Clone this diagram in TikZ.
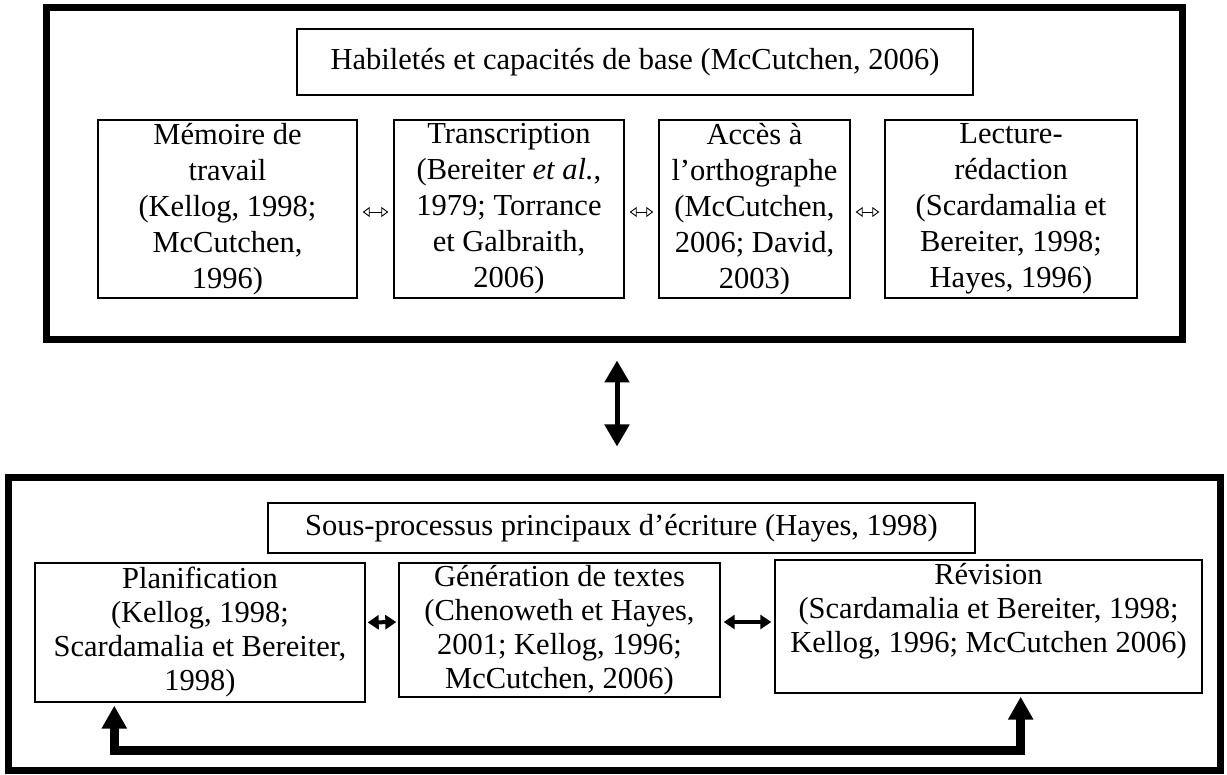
\documentclass[tikz,border=0pt]{standalone}
\usepackage{fontspec}
\setmainfont{Liberation Serif}
\usetikzlibrary{arrows.meta}

\begin{document}
\begin{tikzpicture}[x=1pt, y=-1pt,
    cadre/.style={draw, line width=7pt, inner sep=0pt},
    boite/.style={draw, line width=1.4pt, align=center, inner sep=2pt,
      font=\fontsize{30.5}{34}\selectfont},
    haute/.style={boite, font=\fontsize{30.5}{36}\selectfont},
    petite/.style={{Triangle[open,length=7pt,width=10pt]}-{Triangle[open,length=7pt,width=10pt]},
      line width=0.9pt},
    grosse/.style={{Triangle[length=22pt,width=24pt]}-{Triangle[length=22pt,width=24pt]},
      line width=5pt},
    moyenne/.style={{Triangle[length=11pt,width=14pt]}-{Triangle[length=11pt,width=14pt]},
      line width=4pt}]
        \useasboundingbox (0,0) rectangle (1227,775);

        % cadre du haut
        \node [cadre, minimum width=1136, minimum height=332] (haut) at (614,174) {};
        \node [boite, minimum width=676, minimum height=66] (base) at (635,62)
          {Habiletés et capacités de base (McCutchen, 2006)};
        \node [haute, minimum width=259, minimum height=178] (memoire) at (227.5,209)
          {Mémoire de\\ travail\\ (Kellog, 1998;\\ McCutchen,\\ 1996)};
        \node [haute, minimum width=230, minimum height=178] (transcr) at (509,209)
          {Transcription\\ (Bereiter \textit{et al.},\\ 1979; Torrance\\ et Galbraith,\\ 2006)};
        \node [haute, minimum width=191, minimum height=178] (ortho) at (754.5,209)
          {Accès à\\ l'orthographe\\ (McCutchen,\\ 2006; David,\\ 2003)};
        \node [haute, minimum width=252, minimum height=178] (lecture) at (1011,209)
          {Lecture-\\ rédaction\\ (Scardamalia et\\ Bereiter, 1998;\\ Hayes, 1996)};

        \draw [petite, shorten <=5pt, shorten >=5pt] ([yshift=-3pt]memoire.east)
          -- ([yshift=-3pt]transcr.west);
        \draw [petite, shorten <=5pt, shorten >=5pt] ([yshift=-3pt]transcr.east)
          -- ([yshift=-3pt]ortho.west);
        \draw [petite, shorten <=5pt, shorten >=5pt] ([yshift=-3pt]ortho.east)
          -- ([yshift=-3pt]lecture.west);

        % cadre du bas
        \node [cadre, minimum width=1212, minimum height=292] (bas) at (614,624) {};
        \node [boite, minimum width=707, minimum height=50] (sousproc) at (621.5,528)
          {Sous-processus principaux d'écriture (Hayes, 1998)};
        \node [boite, minimum width=330, minimum height=139] (planif) at (200,632.5)
          {Planification\\ (Kellog, 1998;\\ Scardamalia et Bereiter,\\ 1998)};
        \node [boite, minimum width=321, minimum height=134] (genere) at (559.5,630)
          {Génération de textes\\ (Chenoweth et Hayes,\\ 2001; Kellog, 1996;\\ McCutchen, 2006)};
        \node [boite, minimum width=427, minimum height=133] (revision) at (988.5,626.5)
          {Révision\\ (Scardamalia et Bereiter, 1998;\\ Kellog, 1996; McCutchen 2006)\\[4pt]};

        \draw [moyenne, shorten <=2pt, shorten >=2pt] ([yshift=10pt]planif.east)
          -- ([yshift=8pt]genere.west);
        \draw [moyenne, shorten <=3pt, shorten >=3pt] ([yshift=8pt]genere.east)
          -- ([yshift=4.5pt]revision.west);

        \draw [grosse, shorten <=17pt, shorten >=28pt] ([xshift=3pt]haut.south)
          -- ([xshift=3pt]bas.north);

        \draw [{Triangle[length=23pt,width=24pt]}-{Triangle[length=23pt,width=24pt]},
          line width=9pt, shorten <=3pt, shorten >=3pt]
          ([xshift=80pt]planif.south west) -- ++(0,48)
          -| ([xshift=-182pt]revision.south east);

\end{tikzpicture}
\end{document}
